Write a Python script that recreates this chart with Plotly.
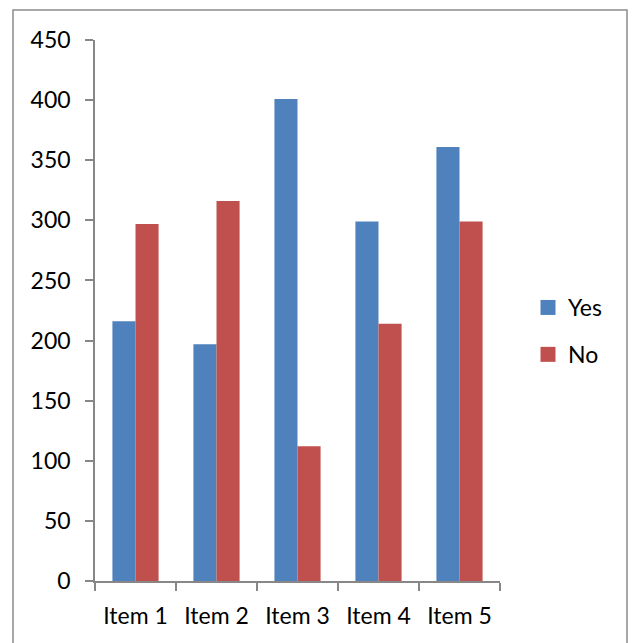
import plotly.graph_objects as go

categories = ["Item 1", "Item 2", "Item 3", "Item 4", "Item 5"]
yes_values = [216, 197, 401, 299, 361]
no_values = [297, 316, 112, 214, 299]
y_ticks = [0, 50, 100, 150, 200, 250, 300, 350, 400, 450]
series_names = ["Yes", "No"]
series_colors = ["#4F81BD", "#C0504D"]

W, H = 633, 643
L, R, T, B = 95, 500, 40, 581
pw, ph = R - L, B - T

fig = go.Figure()
for name, vals, col, grp in zip(series_names, [yes_values, no_values], series_colors, ["a", "b"]):
    fig.add_trace(go.Bar(name=name, x=categories, y=vals, marker_color=col,
                         marker_line_width=0, showlegend=False))
    fig.add_trace(go.Scatter(name=name, x=[None], y=[None], mode="markers",
                             marker=dict(symbol="square", size=15, color=col),
                             legendgroup=grp, showlegend=True))

axis_col = "#878787"
fig.update_layout(
    width=W, height=H,
    margin=dict(l=L, r=W - R, t=T, b=H - B, pad=0),
    paper_bgcolor="white", plot_bgcolor="white",
    font=dict(family="Lato, Carlito, sans-serif", size=23, color="black"),
    barmode="group", bargap=0.43, bargroupgap=0,
    legend=dict(x=(528 - L) / pw, y=(B - 286) / ph, xanchor="left", yanchor="top",
                tracegroupgap=14, font=dict(size=23), itemwidth=30,
                bgcolor="rgba(0,0,0,0)"),
    xaxis=dict(showline=True, linecolor=axis_col, linewidth=1.5, ticks="outside",
               tickson="boundaries", ticklen=8, tickcolor=axis_col, tickwidth=1.5,
               showgrid=False, zeroline=False, ticklabelstandoff=14),
    yaxis=dict(range=[0, 450], tickvals=y_ticks, showline=True, linecolor=axis_col,
               linewidth=1.5, ticks="outside", ticklen=8, tickcolor=axis_col, tickwidth=1.5,
               showgrid=False, zeroline=False, ticklabelstandoff=10),
    shapes=[dict(type="rect", xref="paper", yref="paper",
                 x0=(13 - L) / pw, x1=(627 - L) / pw,
                 y0=(B - 660) / ph, y1=(B - 10) / ph,
                 line=dict(color="#8C8C8C", width=1.5), fillcolor="rgba(0,0,0,0)", layer="below")],
)

fig.write_html("out.html")
